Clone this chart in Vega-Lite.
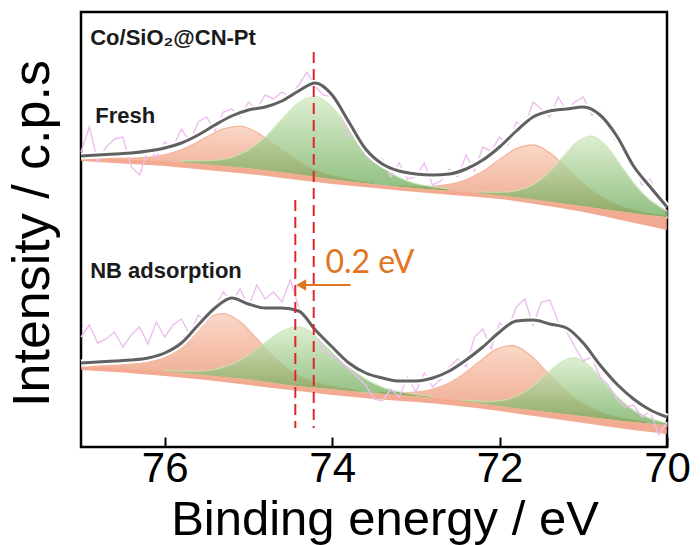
{
  "$schema": "https://vega.github.io/schema/vega-lite/v6.json",
  "width": 586,
  "height": 435,
  "autosize": {"type": "none"},
  "padding": {"left": 81, "top": 12, "right": 33, "bottom": 98},
  "background": "white",
  "config": {
    "view": {"stroke": "black", "strokeWidth": 2.5},
    "font": "Liberation Sans"
  },
  "datasets": {
    "peaks": [
      {"s":"FO1","c":"o","E":76.7,"I":289.3,"I2":288},{"s":"FO1","c":"o","E":76.5,"I":288.8,"I2":287},{"s":"FO1","c":"o","E":76.3,"I":289.1,"I2":286.2},{"s":"FO1","c":"o","E":76.1,"I":290.7,"I2":285.4},{"s":"FO1","c":"o","E":75.9,"I":294.3,"I2":284.4},{"s":"FO1","c":"o","E":75.7,"I":300.8,"I2":283.2},{"s":"FO1","c":"o","E":75.5,"I":309.8,"I2":282},{"s":"FO1","c":"o","E":75.3,"I":318.1,"I2":280.4},{"s":"FO1","c":"o","E":75.1,"I":320.8,"I2":278.8},{"s":"FO1","c":"o","E":74.9,"I":314.7,"I2":277},{"s":"FO1","c":"o","E":74.7,"I":302.8,"I2":275},{"s":"FO1","c":"o","E":74.5,"I":290.6,"I2":273},{"s":"FO1","c":"o","E":74.3,"I":280.5,"I2":270.6},{"s":"FO1","c":"o","E":74.1,"I":273.5,"I2":268.2},{"s":"FO1","c":"o","E":73.9,"I":269,"I2":266.1},{"s":"FO1","c":"o","E":73.7,"I":265.8,"I2":264},{"s":"FO1","c":"o","E":73.5,"I":263.3,"I2":262},
      {"s":"FG1","c":"g","E":75.8,"I":286.3,"I2":283.8},{"s":"FG1","c":"g","E":75.6,"I":286.1,"I2":282.6},{"s":"FG1","c":"g","E":75.4,"I":286.8,"I2":281.2},{"s":"FG1","c":"g","E":75.2,"I":289.7,"I2":279.6},{"s":"FG1","c":"g","E":75.0,"I":297.1,"I2":278},{"s":"FG1","c":"g","E":74.8,"I":309.9,"I2":276},{"s":"FG1","c":"g","E":74.6,"I":327.7,"I2":274},{"s":"FG1","c":"g","E":74.4,"I":344.5,"I2":271.8},{"s":"FG1","c":"g","E":74.2,"I":350.4,"I2":269.4},{"s":"FG1","c":"g","E":74.0,"I":339.7,"I2":267},{"s":"FG1","c":"g","E":73.8,"I":318.7,"I2":265},{"s":"FG1","c":"g","E":73.6,"I":296.9,"I2":263},{"s":"FG1","c":"g","E":73.4,"I":280.3,"I2":261.2},{"s":"FG1","c":"g","E":73.2,"I":269.7,"I2":259.6},{"s":"FG1","c":"g","E":73.0,"I":263.6,"I2":258},{"s":"FG1","c":"g","E":72.8,"I":260.3,"I2":256.8},{"s":"FG1","c":"g","E":72.6,"I":258.1,"I2":255.6},
      {"s":"FO2","c":"o","E":73.2,"I":261.3,"I2":259.6},{"s":"FO2","c":"o","E":73.0,"I":260.4,"I2":258},{"s":"FO2","c":"o","E":72.8,"I":260.6,"I2":256.8},{"s":"FO2","c":"o","E":72.6,"I":262.5,"I2":255.6},{"s":"FO2","c":"o","E":72.4,"I":267.2,"I2":254.2},{"s":"FO2","c":"o","E":72.2,"I":275.6,"I2":252.6},{"s":"FO2","c":"o","E":72.0,"I":287.5,"I2":251},{"s":"FO2","c":"o","E":71.8,"I":298.3,"I2":249},{"s":"FO2","c":"o","E":71.6,"I":302,"I2":247},{"s":"FO2","c":"o","E":71.4,"I":294.1,"I2":244.8},{"s":"FO2","c":"o","E":71.2,"I":278.9,"I2":242.4},{"s":"FO2","c":"o","E":71.0,"I":263,"I2":240},{"s":"FO2","c":"o","E":70.8,"I":250.6,"I2":237.6},{"s":"FO2","c":"o","E":70.6,"I":242.1,"I2":235.2},{"s":"FO2","c":"o","E":70.4,"I":236.6,"I2":232.8},{"s":"FO2","c":"o","E":70.2,"I":233,"I2":230.6},{"s":"FO2","c":"o","E":70.0,"I":230.7,"I2":229},
      {"s":"FG2","c":"g","E":72.26,"I":255.3,"I2":253.1},{"s":"FG2","c":"g","E":72.09,"I":254.8,"I2":251.7},{"s":"FG2","c":"g","E":71.92,"I":255.1,"I2":250.1},{"s":"FG2","c":"g","E":71.75,"I":257.3,"I2":248.3},{"s":"FG2","c":"g","E":71.58,"I":263.4,"I2":246.4},{"s":"FG2","c":"g","E":71.41,"I":274.7,"I2":244.5},{"s":"FG2","c":"g","E":71.24,"I":290.3,"I2":242.6},{"s":"FG2","c":"g","E":71.07,"I":305.4,"I2":240.8},{"s":"FG2","c":"g","E":70.9,"I":310.9,"I2":238.9},{"s":"FG2","c":"g","E":70.73,"I":301.5,"I2":236.9},{"s":"FG2","c":"g","E":70.56,"I":282.7,"I2":235},{"s":"FG2","c":"g","E":70.39,"I":263.3,"I2":233.1},{"s":"FG2","c":"g","E":70.22,"I":248.2,"I2":231.2},{"s":"FG2","c":"g","E":70.05,"I":238.6,"I2":229.6},{"s":"FG2","c":"g","E":70.0,"I":236.2,"I2":229},
      {"s":"NO1","c":"o","E":76.9,"I":81.6,"I2":79.6},{"s":"NO1","c":"o","E":76.7,"I":81.6,"I2":78.8},{"s":"NO1","c":"o","E":76.5,"I":82.4,"I2":78},{"s":"NO1","c":"o","E":76.3,"I":84.8,"I2":76.8},{"s":"NO1","c":"o","E":76.1,"I":90.7,"I2":75.6},{"s":"NO1","c":"o","E":75.9,"I":101,"I2":74.2},{"s":"NO1","c":"o","E":75.7,"I":115,"I2":72.6},{"s":"NO1","c":"o","E":75.5,"I":128.4,"I2":71},{"s":"NO1","c":"o","E":75.3,"I":133.4,"I2":69.4},{"s":"NO1","c":"o","E":75.1,"I":125.2,"I2":67.8},{"s":"NO1","c":"o","E":74.9,"I":108.2,"I2":65.8},{"s":"NO1","c":"o","E":74.7,"I":90.2,"I2":63.4},{"s":"NO1","c":"o","E":74.5,"I":76.1,"I2":61},{"s":"NO1","c":"o","E":74.3,"I":67.4,"I2":59.4},{"s":"NO1","c":"o","E":74.1,"I":62.2,"I2":57.8},{"s":"NO1","c":"o","E":73.9,"I":59,"I2":56.2},{"s":"NO1","c":"o","E":73.7,"I":56.6,"I2":54.6},
      {"s":"NG1","c":"g","E":76.0,"I":76.9,"I2":75},{"s":"NG1","c":"g","E":75.8,"I":76,"I2":73.4},{"s":"NG1","c":"g","E":75.6,"I":75.9,"I2":71.8},{"s":"NG1","c":"g","E":75.4,"I":77.7,"I2":70.2},{"s":"NG1","c":"g","E":75.2,"I":82.8,"I2":68.6},{"s":"NG1","c":"g","E":75.0,"I":92.1,"I2":67},{"s":"NG1","c":"g","E":74.8,"I":104.4,"I2":64.6},{"s":"NG1","c":"g","E":74.6,"I":116,"I2":62.2},{"s":"NG1","c":"g","E":74.4,"I":120.2,"I2":60.2},{"s":"NG1","c":"g","E":74.2,"I":112.4,"I2":58.6},{"s":"NG1","c":"g","E":74.0,"I":96.8,"I2":57},{"s":"NG1","c":"g","E":73.8,"I":80.5,"I2":55.4},{"s":"NG1","c":"g","E":73.6,"I":68,"I2":53.8},{"s":"NG1","c":"g","E":73.4,"I":59.9,"I2":52.4},{"s":"NG1","c":"g","E":73.2,"I":55.3,"I2":51.2},{"s":"NG1","c":"g","E":73.0,"I":52.6,"I2":50},{"s":"NG1","c":"g","E":72.8,"I":50.3,"I2":48.4},
      {"s":"NO2","c":"o","E":73.45,"I":54.7,"I2":52.7},{"s":"NO2","c":"o","E":73.25,"I":54.2,"I2":51.5},{"s":"NO2","c":"o","E":73.05,"I":54.6,"I2":50.3},{"s":"NO2","c":"o","E":72.85,"I":56.7,"I2":48.8},{"s":"NO2","c":"o","E":72.65,"I":62.1,"I2":47.2},{"s":"NO2","c":"o","E":72.45,"I":71.8,"I2":45.4},{"s":"NO2","c":"o","E":72.25,"I":84.8,"I2":43},{"s":"NO2","c":"o","E":72.05,"I":97.1,"I2":40.6},{"s":"NO2","c":"o","E":71.85,"I":101.5,"I2":38.5},{"s":"NO2","c":"o","E":71.65,"I":93,"I2":36.5},{"s":"NO2","c":"o","E":71.45,"I":76.3,"I2":34.5},{"s":"NO2","c":"o","E":71.25,"I":59,"I2":32.5},{"s":"NO2","c":"o","E":71.05,"I":45.4,"I2":30.5},{"s":"NO2","c":"o","E":70.85,"I":36.4,"I2":28.5},{"s":"NO2","c":"o","E":70.65,"I":30.8,"I2":26.5},{"s":"NO2","c":"o","E":70.45,"I":27.3,"I2":24.6},{"s":"NO2","c":"o","E":70.25,"I":25,"I2":23},
      {"s":"NG2","c":"g","E":72.46,"I":47.3,"I2":45.5},{"s":"NG2","c":"g","E":72.29,"I":46,"I2":43.5},{"s":"NG2","c":"g","E":72.12,"I":45.4,"I2":41.4},{"s":"NG2","c":"g","E":71.95,"I":46.8,"I2":39.5},{"s":"NG2","c":"g","E":71.78,"I":51.5,"I2":37.8},{"s":"NG2","c":"g","E":71.61,"I":60.4,"I2":36.1},{"s":"NG2","c":"g","E":71.44,"I":72.9,"I2":34.4},{"s":"NG2","c":"g","E":71.27,"I":84.7,"I2":32.7},{"s":"NG2","c":"g","E":71.1,"I":89,"I2":31},{"s":"NG2","c":"g","E":70.93,"I":81.3,"I2":29.3},{"s":"NG2","c":"g","E":70.76,"I":66.1,"I2":27.6},{"s":"NG2","c":"g","E":70.59,"I":50.2,"I2":25.9},{"s":"NG2","c":"g","E":70.42,"I":38.1,"I2":24.4},{"s":"NG2","c":"g","E":70.25,"I":30.3,"I2":23},{"s":"NG2","c":"g","E":70.08,"I":25.6,"I2":21.6},{"s":"NG2","c":"g","E":70.0,"I":24.2,"I2":21}
    ],
    "bg": [
      {"s":"F","E":77,"I":289,"I2":286},{"s":"F","E":76.5,"I":287,"I2":283.5},{"s":"F","E":76,"I":285,"I2":281},{"s":"F","E":75.5,"I":282,"I2":277},{"s":"F","E":75,"I":278,"I2":273},{"s":"F","E":74.5,"I":273,"I2":268},{"s":"F","E":74,"I":267,"I2":263},{"s":"F","E":73.5,"I":262,"I2":259},{"s":"F","E":73,"I":258,"I2":255},{"s":"F","E":72.5,"I":255,"I2":251.5},{"s":"F","E":72,"I":251,"I2":248},{"s":"F","E":71.5,"I":246,"I2":242},{"s":"F","E":71,"I":240,"I2":235},{"s":"F","E":70.5,"I":234,"I2":226},{"s":"F","E":70,"I":229,"I2":217},
      {"s":"N","E":77,"I":80,"I2":77},{"s":"N","E":76.5,"I":78,"I2":74.5},{"s":"N","E":76,"I":75,"I2":71},{"s":"N","E":75.5,"I":71,"I2":67},{"s":"N","E":75,"I":67,"I2":62},{"s":"N","E":74.5,"I":61,"I2":57},{"s":"N","E":74,"I":57,"I2":52},{"s":"N","E":73.5,"I":53,"I2":48},{"s":"N","E":73,"I":50,"I2":45},{"s":"N","E":72.5,"I":46,"I2":41},{"s":"N","E":72,"I":40,"I2":36},{"s":"N","E":71.5,"I":35,"I2":30},{"s":"N","E":71,"I":30,"I2":24},{"s":"N","E":70.5,"I":25,"I2":18},{"s":"N","E":70,"I":21,"I2":13}
    ],
    "env": [
      {"s":"F","E":77.0,"I":291},{"s":"F","E":76.8,"I":292},{"s":"F","E":76.6,"I":293},{"s":"F","E":76.4,"I":294},{"s":"F","E":76.2,"I":296},{"s":"F","E":76.0,"I":299},{"s":"F","E":75.8,"I":304},{"s":"F","E":75.6,"I":312},{"s":"F","E":75.4,"I":322},{"s":"F","E":75.2,"I":331},{"s":"F","E":75.0,"I":337},{"s":"F","E":74.8,"I":340},{"s":"F","E":74.6,"I":346},{"s":"F","E":74.4,"I":356},{"s":"F","E":74.2,"I":364},{"s":"F","E":74.0,"I":352},{"s":"F","E":73.8,"I":325},{"s":"F","E":73.6,"I":298},{"s":"F","E":73.4,"I":283},{"s":"F","E":73.2,"I":276},{"s":"F","E":73.0,"I":273},{"s":"F","E":72.8,"I":272},{"s":"F","E":72.6,"I":273},{"s":"F","E":72.4,"I":278},{"s":"F","E":72.2,"I":287},{"s":"F","E":72.0,"I":300},{"s":"F","E":71.8,"I":316},{"s":"F","E":71.6,"I":330},{"s":"F","E":71.4,"I":336},{"s":"F","E":71.2,"I":338},{"s":"F","E":71.0,"I":340},{"s":"F","E":70.8,"I":332},{"s":"F","E":70.6,"I":311},{"s":"F","E":70.4,"I":281},{"s":"F","E":70.2,"I":260},{"s":"F","E":70.0,"I":240},
      {"s":"N","E":77.0,"I":84},{"s":"N","E":76.8,"I":85},{"s":"N","E":76.6,"I":86},{"s":"N","E":76.4,"I":87},{"s":"N","E":76.2,"I":89},{"s":"N","E":76.0,"I":94},{"s":"N","E":75.8,"I":104},{"s":"N","E":75.6,"I":122},{"s":"N","E":75.4,"I":139},{"s":"N","E":75.2,"I":149},{"s":"N","E":75.0,"I":143},{"s":"N","E":74.8,"I":139},{"s":"N","E":74.6,"I":139},{"s":"N","E":74.4,"I":136},{"s":"N","E":74.2,"I":117},{"s":"N","E":74.0,"I":100},{"s":"N","E":73.8,"I":84},{"s":"N","E":73.6,"I":74},{"s":"N","E":73.4,"I":69},{"s":"N","E":73.2,"I":66},{"s":"N","E":73.0,"I":66},{"s":"N","E":72.8,"I":69},{"s":"N","E":72.6,"I":76},{"s":"N","E":72.4,"I":87},{"s":"N","E":72.2,"I":100},{"s":"N","E":72.0,"I":115},{"s":"N","E":71.8,"I":126},{"s":"N","E":71.6,"I":127},{"s":"N","E":71.4,"I":123},{"s":"N","E":71.2,"I":119},{"s":"N","E":71.0,"I":104},{"s":"N","E":70.8,"I":82},{"s":"N","E":70.6,"I":63},{"s":"N","E":70.4,"I":48},{"s":"N","E":70.2,"I":37},{"s":"N","E":70.0,"I":30}
    ],
    "raw": [
      {"s":"F","E":77.0,"I":295},{"s":"F","E":76.9,"I":320},{"s":"F","E":76.8,"I":285},{"s":"F","E":76.7,"I":300},{"s":"F","E":76.6,"I":308},{"s":"F","E":76.5,"I":310},{"s":"F","E":76.4,"I":280},{"s":"F","E":76.3,"I":272},{"s":"F","E":76.2,"I":298},{"s":"F","E":76.1,"I":290},{"s":"F","E":76.0,"I":305},{"s":"F","E":75.9,"I":300},{"s":"F","E":75.8,"I":318},{"s":"F","E":75.7,"I":305},{"s":"F","E":75.6,"I":325},{"s":"F","E":75.5,"I":330},{"s":"F","E":75.4,"I":316},{"s":"F","E":75.3,"I":335},{"s":"F","E":75.2,"I":338},{"s":"F","E":75.1,"I":330},{"s":"F","E":75.0,"I":345},{"s":"F","E":74.9,"I":338},{"s":"F","E":74.8,"I":352},{"s":"F","E":74.7,"I":348},{"s":"F","E":74.6,"I":355},{"s":"F","E":74.5,"I":350},{"s":"F","E":74.4,"I":362},{"s":"F","E":74.3,"I":375},{"s":"F","E":74.2,"I":360},{"s":"F","E":74.1,"I":352},{"s":"F","E":74.0,"I":350},{"s":"F","E":73.9,"I":335},{"s":"F","E":73.8,"I":310},{"s":"F","E":73.7,"I":318},{"s":"F","E":73.6,"I":292},{"s":"F","E":73.5,"I":285},{"s":"F","E":73.4,"I":288},{"s":"F","E":73.3,"I":270},{"s":"F","E":73.2,"I":284},{"s":"F","E":73.1,"I":268},{"s":"F","E":73.0,"I":270},{"s":"F","E":72.9,"I":284},{"s":"F","E":72.8,"I":262},{"s":"F","E":72.7,"I":266},{"s":"F","E":72.6,"I":278},{"s":"F","E":72.5,"I":270},{"s":"F","E":72.4,"I":292},{"s":"F","E":72.3,"I":276},{"s":"F","E":72.2,"I":300},{"s":"F","E":72.1,"I":296},{"s":"F","E":72.0,"I":310},{"s":"F","E":71.9,"I":302},{"s":"F","E":71.8,"I":325},{"s":"F","E":71.7,"I":320},{"s":"F","E":71.6,"I":345},{"s":"F","E":71.5,"I":338},{"s":"F","E":71.4,"I":330},{"s":"F","E":71.3,"I":350},{"s":"F","E":71.2,"I":336},{"s":"F","E":71.1,"I":345},{"s":"F","E":71.0,"I":350},{"s":"F","E":70.9,"I":332},{"s":"F","E":70.8,"I":336},{"s":"F","E":70.7,"I":318},{"s":"F","E":70.6,"I":305},{"s":"F","E":70.5,"I":298},{"s":"F","E":70.4,"I":285},{"s":"F","E":70.3,"I":262},{"s":"F","E":70.2,"I":268},{"s":"F","E":70.1,"I":245},{"s":"F","E":70.0,"I":236},
      {"s":"N","E":77.0,"I":110},{"s":"N","E":76.9,"I":122},{"s":"N","E":76.8,"I":104},{"s":"N","E":76.7,"I":108},{"s":"N","E":76.6,"I":115},{"s":"N","E":76.5,"I":100},{"s":"N","E":76.4,"I":112},{"s":"N","E":76.3,"I":120},{"s":"N","E":76.2,"I":103},{"s":"N","E":76.1,"I":125},{"s":"N","E":76.0,"I":110},{"s":"N","E":75.9,"I":122},{"s":"N","E":75.8,"I":128},{"s":"N","E":75.7,"I":112},{"s":"N","E":75.6,"I":132},{"s":"N","E":75.5,"I":125},{"s":"N","E":75.4,"I":140},{"s":"N","E":75.3,"I":155},{"s":"N","E":75.2,"I":145},{"s":"N","E":75.1,"I":158},{"s":"N","E":75.0,"I":140},{"s":"N","E":74.9,"I":162},{"s":"N","E":74.8,"I":148},{"s":"N","E":74.7,"I":155},{"s":"N","E":74.6,"I":145},{"s":"N","E":74.5,"I":167},{"s":"N","E":74.4,"I":140},{"s":"N","E":74.3,"I":128},{"s":"N","E":74.2,"I":115},{"s":"N","E":74.1,"I":96},{"s":"N","E":74.0,"I":92},{"s":"N","E":73.9,"I":85},{"s":"N","E":73.8,"I":78},{"s":"N","E":73.7,"I":70},{"s":"N","E":73.6,"I":62},{"s":"N","E":73.5,"I":48},{"s":"N","E":73.4,"I":46},{"s":"N","E":73.3,"I":58},{"s":"N","E":73.2,"I":50},{"s":"N","E":73.1,"I":70},{"s":"N","E":73.0,"I":55},{"s":"N","E":72.9,"I":74},{"s":"N","E":72.8,"I":60},{"s":"N","E":72.7,"I":68},{"s":"N","E":72.6,"I":80},{"s":"N","E":72.5,"I":88},{"s":"N","E":72.4,"I":80},{"s":"N","E":72.3,"I":110},{"s":"N","E":72.2,"I":118},{"s":"N","E":72.1,"I":98},{"s":"N","E":72.0,"I":124},{"s":"N","E":71.9,"I":118},{"s":"N","E":71.8,"I":140},{"s":"N","E":71.7,"I":148},{"s":"N","E":71.6,"I":122},{"s":"N","E":71.5,"I":145},{"s":"N","E":71.4,"I":147},{"s":"N","E":71.3,"I":125},{"s":"N","E":71.2,"I":115},{"s":"N","E":71.1,"I":100},{"s":"N","E":71.0,"I":86},{"s":"N","E":70.9,"I":90},{"s":"N","E":70.8,"I":70},{"s":"N","E":70.7,"I":62},{"s":"N","E":70.6,"I":48},{"s":"N","E":70.5,"I":40},{"s":"N","E":70.4,"I":42},{"s":"N","E":70.3,"I":30},{"s":"N","E":70.2,"I":36},{"s":"N","E":70.1,"I":12},{"s":"N","E":70.0,"I":25}
    ],
    "marks": [
      {"E":74.22,"I":395,"I2":19},
      {"E":74.44,"I":247,"I2":19}
    ],
    "arrow": [{"E":74.32,"E2":73.78,"I":162}],
    "head": [{"E":74.37,"I":162}],
    "labels": [
      {"E":76.89,"I":402,"t":"Co/SiO₂@CN-Pt"},
      {"E":76.83,"I":324,"t":"Fresh"},
      {"E":76.89,"I":169,"t":"NB adsorption"}
    ],
    "shift": [{"E":74.08,"I":174,"t":"0.2 eV"}]
  },
  "encoding": {
    "x": {
      "field": "E", "type": "quantitative",
      "scale": {"domain": [70, 77], "reverse": true, "nice": false, "zero": false},
      "axis": {
        "values": [76, 74, 72, 70], "format": "d", "grid": false, "domain": false,
        "tickSize": -10, "tickWidth": 2, "tickColor": "black",
        "labelFontSize": 42, "labelFont": "Liberation Sans", "labelColor": "black", "labelPadding": 11,
        "labelFlush": false, "labelOverlap": false, "labelBound": false,
        "title": "Binding energy / eV", "titleFontSize": 49, "titleFont": "Liberation Sans", "titleFontWeight": "normal",
        "titleColor": "black", "titleX": 303.5, "titleY": 87, "titleBaseline": "alphabetic", "titleAlign": "center"
      }
    },
    "y": {
      "field": "I", "type": "quantitative",
      "scale": {"domain": [0, 435], "nice": false, "zero": false},
      "axis": {
        "labels": false, "ticks": false, "domain": false, "grid": false,
        "title": "Intensity / c.p.s", "titleFontSize": 52, "titleFont": "Liberation Sans", "titleFontWeight": "normal",
        "titleColor": "black", "titleX": -33, "titleY": 221, "titleAngle": -90, "titleAlign": "center", "titleBaseline": "alphabetic"
      }
    }
  },
  "layer": [
    {
      "data": {"name": "bg"},
      "mark": {"type": "area", "interpolate": "monotone", "color": "#ef9677", "opacity": 0.8},
      "encoding": {"y2": {"field": "I2"}, "detail": {"field": "s"}}
    },
    {
      "data": {"name": "peaks"},
      "transform": [{"filter": "datum.c == 'o'"}],
      "mark": {"type": "area", "interpolate": "monotone", "opacity": 0.78,
        "color": {"gradient": "linear", "x1": 0, "y1": 0, "x2": 0, "y2": 1,
          "stops": [{"offset": 0, "color": "#f9cdb9"}, {"offset": 1, "color": "#e98c69"}]},
        "stroke": "#f3a283", "strokeWidth": 1.3},
      "encoding": {"y2": {"field": "I2"}, "detail": {"field": "s"}}
    },
    {
      "data": {"name": "peaks"},
      "transform": [{"filter": "datum.c == 'g'"}],
      "mark": {"type": "area", "interpolate": "monotone", "opacity": 0.75,
        "color": {"gradient": "linear", "x1": 0, "y1": 0, "x2": 0, "y2": 1,
          "stops": [{"offset": 0, "color": "#d3eac2"}, {"offset": 1, "color": "#6aa955"}]},
        "stroke": "#c5e3b0", "strokeWidth": 1.3},
      "encoding": {"y2": {"field": "I2"}, "detail": {"field": "s"}}
    },
    {
      "data": {"name": "bg"},
      "mark": {"type": "line", "interpolate": "monotone", "color": "#f4ab8f", "strokeWidth": 1.5},
      "encoding": {"detail": {"field": "s"}}
    },
    {
      "data": {"name": "raw"},
      "mark": {"type": "line", "color": "#eebdf0", "strokeWidth": 1.4},
      "encoding": {"detail": {"field": "s"}}
    },
    {
      "data": {"name": "env"},
      "mark": {"type": "line", "interpolate": "monotone", "color": "white", "strokeWidth": 7},
      "encoding": {"detail": {"field": "s"}}
    },
    {
      "data": {"name": "env"},
      "mark": {"type": "line", "interpolate": "monotone", "color": "#616161", "strokeWidth": 3},
      "encoding": {"detail": {"field": "s"}}
    },
    {
      "data": {"name": "marks"},
      "mark": {"type": "rule", "color": "#e0262b", "strokeWidth": 2, "strokeDash": [11, 6]},
      "encoding": {"y2": {"field": "I2"}}
    },
    {
      "data": {"name": "arrow"},
      "mark": {"type": "rule", "color": "#e0741f", "strokeWidth": 2},
      "encoding": {"x2": {"field": "E2"}}
    },
    {
      "data": {"name": "head"},
      "mark": {"type": "point", "shape": "triangle-left", "filled": true, "color": "#e0741f", "size": 130, "opacity": 1},
      "encoding": {}
    },
    {
      "data": {"name": "labels"},
      "mark": {"type": "text", "align": "left", "baseline": "alphabetic", "font": "Liberation Sans", "fontWeight": "bold", "fontSize": 22, "color": "#1a1a1a"},
      "encoding": {"text": {"field": "t"}}
    },
    {
      "data": {"name": "shift"},
      "mark": {"type": "text", "align": "left", "baseline": "alphabetic", "font": "Lato", "fontSize": 32, "color": "#e0741f"},
      "encoding": {"text": {"field": "t"}}
    }
  ]
}
